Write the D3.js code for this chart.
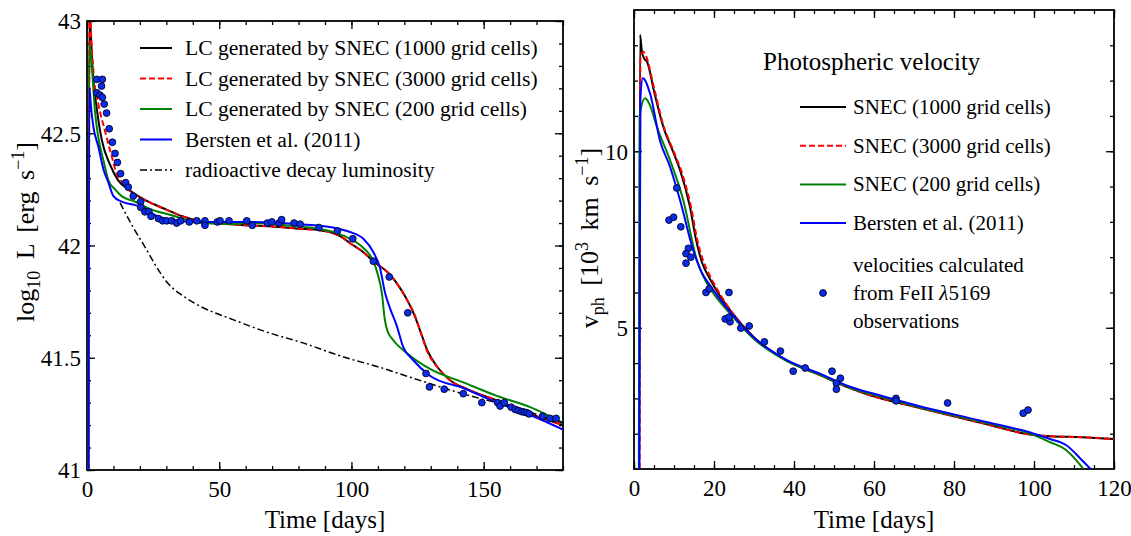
<!DOCTYPE html>
<html>
<head>
<meta charset="utf-8">
<script src="https://cdn.jsdelivr.net/npm/d3@7"></script>
<style>
  body { margin: 0; background: #fff; }
  svg text { font-family: "Liberation Serif", "Times New Roman", serif; fill: #000; }
</style>
</head>
<body>
<svg id="chart" width="1131" height="536"></svg>
<script>
// ---------- Light curve panel: [time (days), log10 L] ----------
const lcSnec1000 = [[0.5,40.8],[0.9,43.1],[1.3,42.98],[2.4,42.74],[3.7,42.61],[5.6,42.47],[8.7,42.36],[11.8,42.29],[15.6,42.25],[20,42.215],[25,42.185],[30,42.16],[36,42.13],[42,42.11],[50,42.10],[60,42.09],[70,42.085],[80,42.075],[88,42.068],[93,42.055],[96,42.04],[99.5,42.01],[104.5,41.97],[108.3,41.93],[114.6,41.87],[118.4,41.81],[121.4,41.75],[123.8,41.69],[126.3,41.61],[128.8,41.53],[132.4,41.46],[137.3,41.40],[143.7,41.36],[155,41.31],[167.6,41.25],[180,41.20]];
const lcSnec3000 = [[0.6,40.8],[1.0,43.1],[1.5,42.95],[2.6,42.75],[4.3,42.63],[6.8,42.51],[9.3,42.40],[11.2,42.32],[13.5,42.28],[15.6,42.25],[20,42.215],[25,42.185],[30,42.16],[36,42.13],[42,42.11],[50,42.10],[60,42.09],[70,42.085],[80,42.075],[88,42.068],[93,42.055],[96,42.04],[99.5,42.01],[104.5,41.97],[108.3,41.93],[114.6,41.87],[118.4,41.81],[121.4,41.75],[123.6,41.70],[126,41.62],[128.6,41.53],[132.4,41.46],[137.3,41.40],[143.7,41.36],[155,41.31],[167.6,41.25],[180,41.20]];
const lcSnec200 = [[0.5,40.8],[0.9,42.9],[1.8,42.8],[3,42.60],[4.3,42.48],[6.2,42.38],[8.1,42.29],[10.6,42.25],[13.1,42.22],[18.2,42.195],[24.5,42.16],[32,42.135],[43,42.10],[55,42.095],[61.6,42.10],[75,42.09],[87,42.075],[94.5,42.055],[99.5,42.03],[104.4,41.99],[108.3,41.93],[110,41.87],[111.6,41.78],[112.5,41.68],[113.6,41.62],[115.7,41.58],[121,41.52],[129.7,41.45],[142.3,41.39],[155,41.33],[167.6,41.28],[180,41.21]];
const lcBersten = [[0.5,40.8],[0.9,42.7],[1.5,42.62],[2.4,42.53],[4.3,42.44],[6.2,42.34],[8.1,42.28],[10,42.22],[13.1,42.195],[18.2,42.18],[22,42.165],[25.7,42.135],[29.5,42.12],[40,42.105],[61.6,42.105],[80,42.095],[93,42.08],[99.5,42.06],[104.5,42.03],[108.3,41.97],[110.8,41.90],[112.7,41.79],[114.6,41.72],[117.2,41.64],[119.5,41.55],[123.3,41.49],[129.7,41.42],[142.3,41.365],[155,41.30],[167.6,41.245],[180,41.18]];
const lcDecay = [[12.5,42.19],[17.5,42.08],[22.6,41.98],[25,41.93],[27.6,41.88],[30,41.84],[32.6,41.808],[35.5,41.782],[38,41.762],[42.7,41.73],[55.2,41.67],[67.8,41.615],[80.6,41.57],[98,41.50],[110,41.46],[123,41.41],[142,41.34],[161,41.28],[180,41.21]];

const obsLcDay  = [3.7,5.8,5.5,3.7,4.9,5.8,6.5,7.4,8.4,9.6,10.6,11.5,12.7,14.6,15.6,17.5,20.3,20.3,21.9,23.4,24.2,27,28.6,30.1,32,33.9,35.4,38.7,41.5,44.6,44.6,49.3,50.3,53.7,60.4,62.5,68.2,69.9,72.6,73.6,78.3,80.6,87.7,94.7,100.5,108.3,114.3,121.3,128.2,129.5,135.1,142.3,149.3,155.3,156.2,157.8,160.4,161.9,163.1,164.4,165.3,166.3,167.2,172.3,175.1,177.4];
const obsLcLogL = [42.74,42.74,42.71,42.68,42.67,42.66,42.63,42.59,42.52,42.46,42.41,42.37,42.32,42.28,42.26,42.22,42.195,42.17,42.15,42.15,42.13,42.12,42.11,42.11,42.11,42.10,42.11,42.105,42.11,42.11,42.09,42.105,42.11,42.11,42.11,42.09,42.10,42.105,42.10,42.115,42.10,42.095,42.08,42.065,42.03,41.93,41.86,41.70,41.43,41.37,41.36,41.34,41.30,41.30,41.285,41.30,41.28,41.27,41.265,41.26,41.258,41.255,41.25,41.24,41.23,41.23];

const lcXTicks = [0, 50, 100, 150];
const lcYTicks = [41, 41.5, 42, 42.5, 43];

// ---------- Velocity panel: [time (days), v_ph (10^3 km/s)] ----------
const vSnec1000 = [[1.3,0.5],[1.5,13.3],[2.0,12.8],[2.7,12.6],[3.2,12.55],[5,11.7],[7.3,10.7],[9.9,9.95],[11.5,9.47],[14,8.42],[15.5,7.5],[17,6.85],[19,6.38],[21.5,5.9],[24,5.5],[29.9,4.74],[38,4.08],[46.5,3.66],[54,3.29],[59,3.09],[70.7,2.75],[87,2.3],[100,1.96],[104,1.93],[112,1.9],[120,1.85]];
const vSnec3000 = [[1.4,0.5],[1.6,12.6],[2.3,12.82],[3.0,12.7],[5,11.8],[7.3,10.75],[9.9,10.0],[11.8,9.45],[14.3,8.4],[15.8,7.5],[17.3,6.9],[19.3,6.4],[21.7,5.92],[24,5.52],[29.9,4.74],[38,4.08],[46.5,3.66],[54,3.29],[59,3.09],[70.7,2.75],[87,2.3],[100,1.96],[104,1.93],[112,1.9],[120,1.85]];
const vSnec200 = [[1.2,0.5],[1.4,11.0],[2.8,11.5],[4,11.3],[5.7,10.7],[9,9.75],[12.3,8.62],[15.7,6.92],[18,6.3],[20,5.95],[24,5.4],[30,4.68],[38,4.07],[46.5,3.67],[54,3.3],[60,3.1],[70.7,2.77],[87,2.33],[100,1.96],[104,1.76],[108,1.54],[112,1.05],[113,0.9]];
const vBersten = [[1.3,0.5],[1.6,11.5],[2.2,12.07],[4,11.64],[6.5,10.3],[9,9.56],[11.5,8.62],[14.8,7.2],[17,6.55],[19,6.2],[24,5.45],[30,4.72],[38,4.1],[46.5,3.7],[54,3.33],[60,3.13],[70.7,2.8],[87,2.36],[100,2.0],[104,1.85],[108,1.68],[112,1.25],[115,0.9]];

const obsVDay = [10.7,8.75,9.9,11.7,13.6,13.0,14.2,13.0,18,18.8,23.75,22.8,24,23.75,26.7,28.8,32.6,36.6,39.8,42.8,49.5,50.6,50.6,51.6,65.5,65.5,78.4,97.3,98.5];
const obsVel  = [8.96,8.05,8.13,7.86,7.25,7.1,7.0,6.83,6.0,6.1,6.0,5.25,5.17,5.3,4.99,5.05,4.6,4.34,3.77,3.86,3.77,3.43,3.26,3.57,3.0,2.93,2.87,2.58,2.67];

const vXTicks = [0, 20, 40, 60, 80, 100, 120];
const vYTicks = [5, 10];

// ---------- drawing ----------
const svg = d3.select("#chart");
const COL = { black: "#000", red: "#ff0000", green: "#008000", blue: "#0000ff" };
const DOT_FILL = "#0a2ee8", DOT_EDGE = "#00002a";

function drawFrame(g, x, y, box, xMaj, xMin, yMaj, yMin, xFmt, yFmt, clipId) {
  const [x0, x1, y0, y1] = box;
  const tickStyle = sel => {
    sel.select(".domain").remove();
    sel.selectAll(".tick line").attr("stroke", "#000").attr("stroke-width", 1.3);
  };
  // bottom / left with labels
  g.append("g").attr("transform", `translate(0,${y1})`)
    .call(d3.axisBottom(x).tickValues(xMin).tickSize(-4).tickFormat("")).call(tickStyle);
  const bx = g.append("g").attr("transform", `translate(0,${y1})`)
    .call(d3.axisBottom(x).tickValues(xMaj).tickSize(-8).tickFormat(xFmt)).call(tickStyle);
  bx.selectAll(".tick text").attr("y", 27).attr("dy", 0)
    .style("font-size", "23px").style("font-family", '"Liberation Serif", serif').attr("fill", "#000");

  g.append("g").attr("transform", `translate(${x0},0)`)
    .call(d3.axisLeft(y).tickValues(yMin).tickSize(-4).tickFormat("")).call(tickStyle);
  const ly = g.append("g").attr("transform", `translate(${x0},0)`)
    .call(d3.axisLeft(y).tickValues(yMaj).tickSize(-8).tickFormat(yFmt)).call(tickStyle);
  ly.selectAll(".tick text").attr("x", -6).attr("dy", "0.34em")
    .style("font-size", "23px").style("font-family", '"Liberation Serif", serif').attr("fill", "#000");

  // mirrored ticks on top / right
  g.append("g").attr("transform", `translate(0,${y0})`)
    .call(d3.axisTop(x).tickValues(xMin).tickSize(-4).tickFormat("")).call(tickStyle);
  g.append("g").attr("transform", `translate(0,${y0})`)
    .call(d3.axisTop(x).tickValues(xMaj).tickSize(-8).tickFormat("")).call(tickStyle);
  g.append("g").attr("transform", `translate(${x1},0)`)
    .call(d3.axisRight(y).tickValues(yMin).tickSize(-4).tickFormat("")).call(tickStyle);
  g.append("g").attr("transform", `translate(${x1},0)`)
    .call(d3.axisRight(y).tickValues(yMaj).tickSize(-8).tickFormat("")).call(tickStyle);

  g.append("rect").attr("x", x0).attr("y", y0).attr("width", x1 - x0).attr("height", y1 - y0)
    .attr("fill", "none").attr("stroke", "#000").attr("stroke-width", 1.8);

  svg.append("clipPath").attr("id", clipId).append("rect")
    .attr("x", x0).attr("y", y0).attr("width", x1 - x0).attr("height", y1 - y0);
}

function drawSeries(g, x, y, data, color, width, dash, clipId) {
  const line = d3.line().x(d => x(d[0])).y(d => y(d[1])).curve(d3.curveMonotoneX);
  g.append("path").datum(data).attr("clip-path", `url(#${clipId})`)
    .attr("d", line).attr("fill", "none").attr("stroke", color)
    .attr("stroke-width", width).attr("stroke-dasharray", dash || null)
    .attr("stroke-linejoin", "round");
}

function drawDots(g, x, y, xs, ys) {
  g.append("g").selectAll("circle").data(xs.map((d, i) => [d, ys[i]])).join("circle")
    .attr("cx", d => x(d[0])).attr("cy", d => y(d[1])).attr("r", 3.4)
    .attr("fill", DOT_FILL).attr("stroke", DOT_EDGE).attr("stroke-width", 0.9);
}

// ----- light curve panel -----
{
  const box = [87, 563, 21, 470];
  const x = d3.scaleLinear().domain([0, 180]).range([box[0], box[1]]);
  const y = d3.scaleLinear().domain([41, 43]).range([box[3], box[2]]);
  const g = svg.append("g");
  drawFrame(g, x, y, box, lcXTicks, d3.range(0, 181, 10), lcYTicks,
    d3.range(0, 21).map(i => 41 + i * 0.1), d3.format("d"), d => d3.format("~g")(d), "clipLc");

  drawSeries(g, x, y, lcSnec1000, COL.black, 2, null, "clipLc");
  drawSeries(g, x, y, lcSnec3000, COL.red, 2, "6,3", "clipLc");
  drawSeries(g, x, y, lcSnec200, COL.green, 2, null, "clipLc");
  drawSeries(g, x, y, lcBersten, COL.blue, 2, null, "clipLc");
  drawSeries(g, x, y, lcDecay, COL.black, 1.5, "7,3,2,3", "clipLc");
  drawDots(g, x, y, obsLcDay, obsLcLogL);

  // legend
  const items = [
    ["LC generated by SNEC (1000 grid cells)", COL.black, 2, null],
    ["LC generated by SNEC (3000 grid cells)", COL.red, 2, "6,3"],
    ["LC generated by SNEC (200 grid cells)", COL.green, 2, null],
    ["Bersten et al. (2011)", COL.blue, 2, null],
    ["radioactive decay luminosity", COL.black, 1.5, "7,3,2,3"]
  ];
  items.forEach((it, i) => {
    const cy = 48 + i * 30.5;
    g.append("line").attr("x1", 140).attr("x2", 172).attr("y1", cy).attr("y2", cy)
      .attr("stroke", it[1]).attr("stroke-width", it[2]).attr("stroke-dasharray", it[3]);
    g.append("text").attr("x", 185).attr("y", cy + 7).style("font-size", "21.6px").text(it[0]);
  });

  // axis titles
  g.append("text").attr("x", (box[0] + box[1]) / 2).attr("y", 528).attr("text-anchor", "middle")
    .style("font-size", "25px").text("Time [days]");
  const yl = g.append("text").attr("transform", "translate(34,232) rotate(-90)")
    .attr("text-anchor", "middle").style("font-size", "26px").style("word-spacing", "5px");
  yl.append("tspan").text("log");
  yl.append("tspan").attr("dy", 6).style("font-size", "18px").text("10");
  yl.append("tspan").attr("dy", -6).text(" L [erg s");
  yl.append("tspan").attr("dy", -10).style("font-size", "18px").text("−1");
  yl.append("tspan").attr("dy", 10).text("]");
}

// ----- velocity panel -----
{
  const box = [634, 1114, 10, 469];
  const x = d3.scaleLinear().domain([0, 120]).range([box[0], box[1]]);
  const y = d3.scaleLinear().domain([1, 14]).range([box[3], box[2]]);
  const g = svg.append("g");
  drawFrame(g, x, y, box, vXTicks, d3.range(0, 121, 5), vYTicks, d3.range(2, 14),
    d3.format("d"), d3.format("d"), "clipV");

  drawSeries(g, x, y, vSnec1000, COL.black, 2, null, "clipV");
  drawSeries(g, x, y, vSnec3000, COL.red, 2, "6,3", "clipV");
  drawSeries(g, x, y, vSnec200, COL.green, 2, null, "clipV");
  drawSeries(g, x, y, vBersten, COL.blue, 2, null, "clipV");
  drawDots(g, x, y, obsVDay, obsVel);

  g.append("text").attr("x", 763).attr("y", 70).style("font-size", "25px").text("Photospheric velocity");
  const items = [
    ["SNEC (1000 grid cells)", COL.black, null],
    ["SNEC (3000 grid cells)", COL.red, "6,3"],
    ["SNEC (200 grid cells)", COL.green, null],
    ["Bersten et al. (2011)", COL.blue, null]
  ];
  items.forEach((it, i) => {
    const cy = 107 + i * 38.7;
    g.append("line").attr("x1", 800).attr("x2", 846).attr("y1", cy).attr("y2", cy)
      .attr("stroke", it[1]).attr("stroke-width", 2).attr("stroke-dasharray", it[2]);
    g.append("text").attr("x", 853).attr("y", cy + 7).style("font-size", "21px").text(it[0]);
  });
  g.append("circle").attr("cx", 823).attr("cy", 293).attr("r", 3.4)
    .attr("fill", DOT_FILL).attr("stroke", DOT_EDGE).attr("stroke-width", 0.9);
  const obsLines = ["velocities calculated", null, "observations"];
  [265, 293, 321].forEach((cy, i) => {
    const t = g.append("text").attr("x", 853).attr("y", cy + 7).style("font-size", "21px");
    if (i === 1) {
      t.append("tspan").text("from FeII ");
      t.append("tspan").style("font-style", "italic").text("λ");
      t.append("tspan").text("5169");
    } else t.text(obsLines[i]);
  });

  g.append("text").attr("x", (box[0] + box[1]) / 2).attr("y", 528).attr("text-anchor", "middle")
    .style("font-size", "25px").text("Time [days]");
  const yl = g.append("text").attr("transform", "translate(598,238) rotate(-90)")
    .attr("text-anchor", "middle").style("font-size", "26px").style("word-spacing", "5px");
  yl.append("tspan").text("v");
  yl.append("tspan").attr("dy", 6).style("font-size", "18px").text("ph");
  yl.append("tspan").attr("dy", -6).text(" [10");
  yl.append("tspan").attr("dy", -10).style("font-size", "18px").text("3");
  yl.append("tspan").attr("dy", 10).text(" km s");
  yl.append("tspan").attr("dy", -10).style("font-size", "18px").text("−1");
  yl.append("tspan").attr("dy", 10).text("]");
}
</script>
</body>
</html>
